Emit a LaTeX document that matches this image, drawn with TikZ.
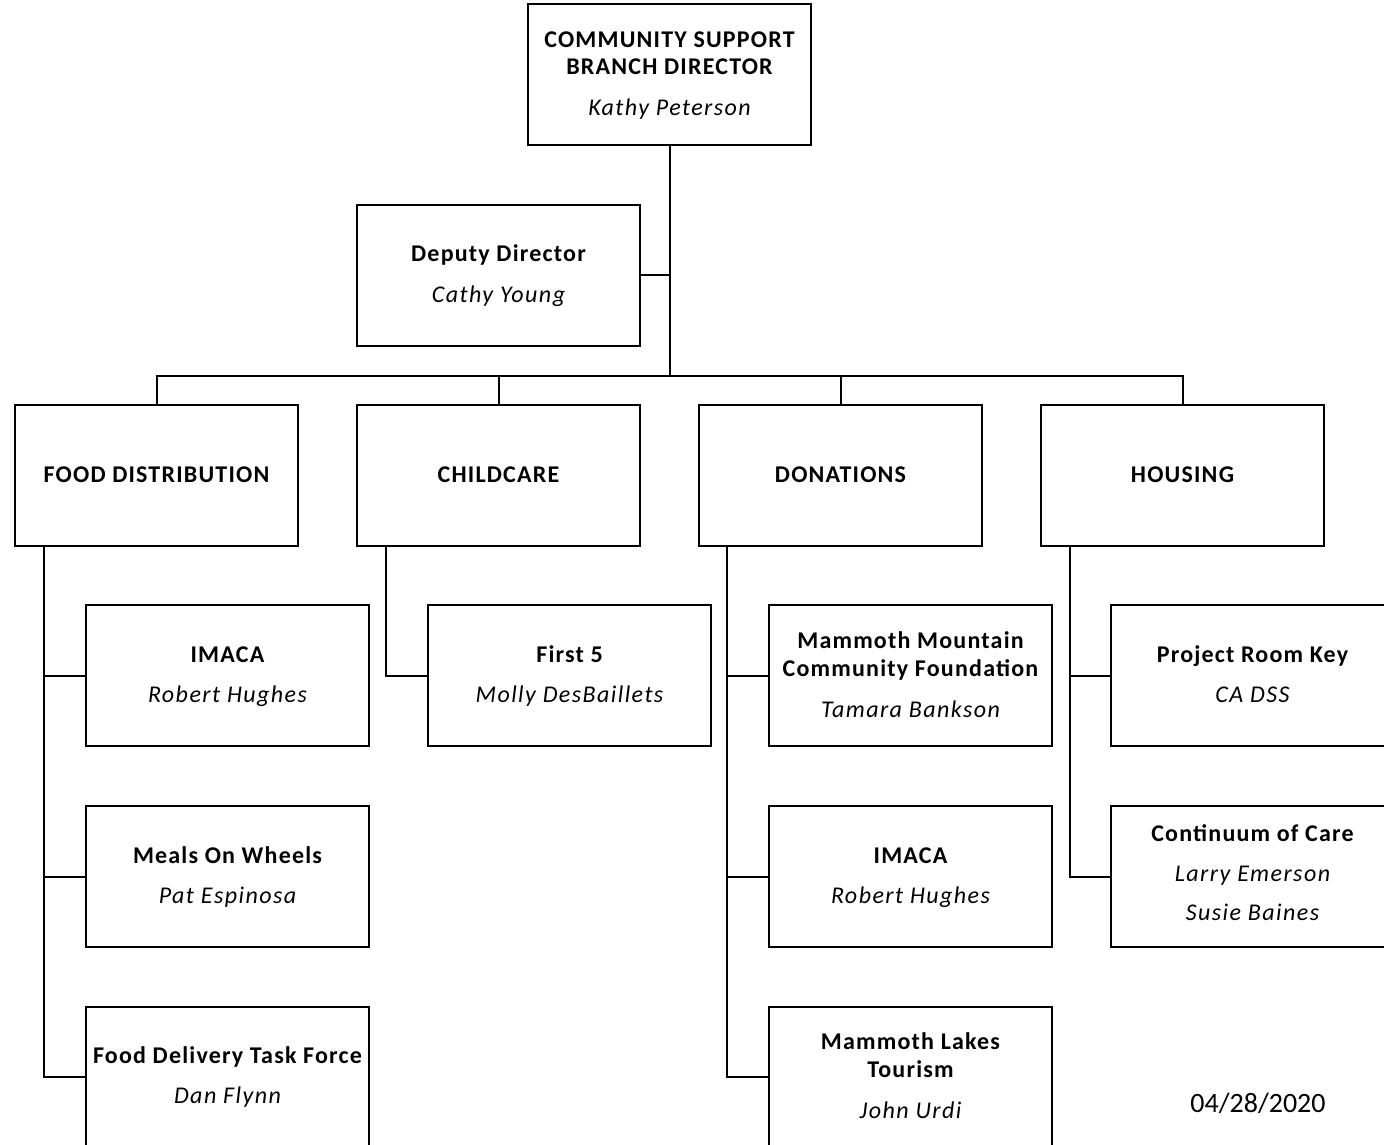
\documentclass[tikz,border=0pt]{standalone}
\usepackage{fontspec}
\setmainfont{Carlito}
\newfontfamily\boldsp[LetterSpace=5]{Carlito}
\newfontfamily\itsp[LetterSpace=6]{Carlito}
\begin{document}
\begin{tikzpicture}[x=1pt,y=-1pt,
  box/.style={draw, line width=2pt, minimum width=283pt, minimum height=141pt, inner sep=0pt},
  conn/.style={line width=2pt},
  bt/.style={font=\fontsize{24}{28}\boldsp\bfseries, anchor=base, inner sep=0pt},
  it/.style={font=\fontsize{24}{28}\itsp\itshape, anchor=base, inner sep=0pt},
  rt/.style={font=\fontsize{28}{32}\selectfont, anchor=base, inner sep=0pt}]
\useasboundingbox (0,0) rectangle (1384,1145);
\clip (0,0) rectangle (1384,1145);
% boxes
\node[box] (top) at (669.5,75) {};
\node[box] (dep) at (498.5,275) {};
\node[box] (food) at (156.5,475) {};
\node[box] (child) at (498.5,475) {};
\node[box] (don) at (840.5,475) {};
\node[box] (hous) at (1182.5,475) {};
\node[box] (fd1) at (227.5,675.5) {};
\node[box] (fd2) at (227.5,876.5) {};
\node[box] (fd3) at (227.5,1077) {};
\node[box] (ch1) at (569.5,675.5) {};
\node[box] (dn1) at (910.5,675.5) {};
\node[box] (dn2) at (910.5,876.5) {};
\node[box] (dn3) at (910.5,1077) {};
\node[box] (hs1) at (1252.5,675.5) {};
\node[box] (hs2) at (1252.5,876.5) {};
% texts
\node[bt] at ([yshift=-44pt]top.north) {COMMUNITY SUPPORT};
\node[bt] at ([yshift=-71pt]top.north) {BRANCH DIRECTOR};
\node[it] at ([yshift=-112pt]top.north) {Kathy Peterson};
\node[bt] at ([yshift=-58pt]dep.north) {Deputy Director};
\node[it] at ([yshift=-99pt]dep.north) {Cathy Young};
\node[bt] at ([yshift=-79pt]food.north) {FOOD DISTRIBUTION};
\node[bt] at ([yshift=-79pt]child.north) {CHILDCARE};
\node[bt] at ([yshift=-79pt]don.north) {DONATIONS};
\node[bt] at ([yshift=-79pt]hous.north) {HOUSING};
\node[bt] at ([yshift=-58pt]fd1.north) {IMACA};
\node[it] at ([yshift=-98pt]fd1.north) {Robert Hughes};
\node[bt] at ([yshift=-58pt]fd2.north) {Meals On Wheels};
\node[it] at ([yshift=-98pt]fd2.north) {Pat Espinosa};
\node[bt] at ([yshift=-58pt]fd3.north) {Food Delivery Task Force};
\node[it] at ([yshift=-98pt]fd3.north) {Dan Flynn};
\node[bt] at ([yshift=-58pt]ch1.north) {First 5};
\node[it] at ([yshift=-98pt]ch1.north) {Molly DesBaillets};
\node[bt] at ([yshift=-44pt]dn1.north) {Mammoth Mountain};
\node[bt] at ([yshift=-72pt]dn1.north) {Community Foundation};
\node[it] at ([yshift=-113pt]dn1.north) {Tamara Bankson};
\node[bt] at ([yshift=-58pt]dn2.north) {IMACA};
\node[it] at ([yshift=-98pt]dn2.north) {Robert Hughes};
\node[bt] at ([yshift=-44pt]dn3.north) {Mammoth Lakes};
\node[bt] at ([yshift=-72pt]dn3.north) {Tourism};
\node[it] at ([yshift=-113pt]dn3.north) {John Urdi};
\node[bt] at ([yshift=-58pt]hs1.north) {Project Room Key};
\node[it] at ([yshift=-98pt]hs1.north) {CA DSS};
\node[bt] at ([yshift=-36pt]hs2.north) {Continuum of Care};
\node[it] at ([yshift=-76pt]hs2.north) {Larry Emerson};
\node[it] at ([yshift=-115pt]hs2.north) {Susie Baines};
\node[rt] (date) at (1258,1112.5) {04/28/2020};
% connectors
\coordinate (bus) at (669.5,376);
\draw[conn] (top.south) -- (bus);
\draw[conn] (dep.east) -- (dep.east -| top.south);
\draw[conn] (food.north) |- (hous.north |- bus) -- (hous.north);
\draw[conn] (child.north) -- (child.north |- bus);
\draw[conn] (don.north) -- (don.north |- bus);
\coordinate (fdl) at (44,546);
\draw[conn] (fdl) |- (fd3.west);
\draw[conn] (fd1.west) -- (fd1.west -| fdl);
\draw[conn] (fd2.west) -- (fd2.west -| fdl);
\coordinate (chl) at (386,546);
\draw[conn] (chl) |- (ch1.west);
\coordinate (dnl) at (727,546);
\draw[conn] (dnl) |- (dn3.west);
\draw[conn] (dn1.west) -- (dn1.west -| dnl);
\draw[conn] (dn2.west) -- (dn2.west -| dnl);
\coordinate (hsl) at (1070,546);
\draw[conn] (hsl) |- (hs2.west);
\draw[conn] (hs1.west) -- (hs1.west -| hsl);
\end{tikzpicture}
\end{document}
